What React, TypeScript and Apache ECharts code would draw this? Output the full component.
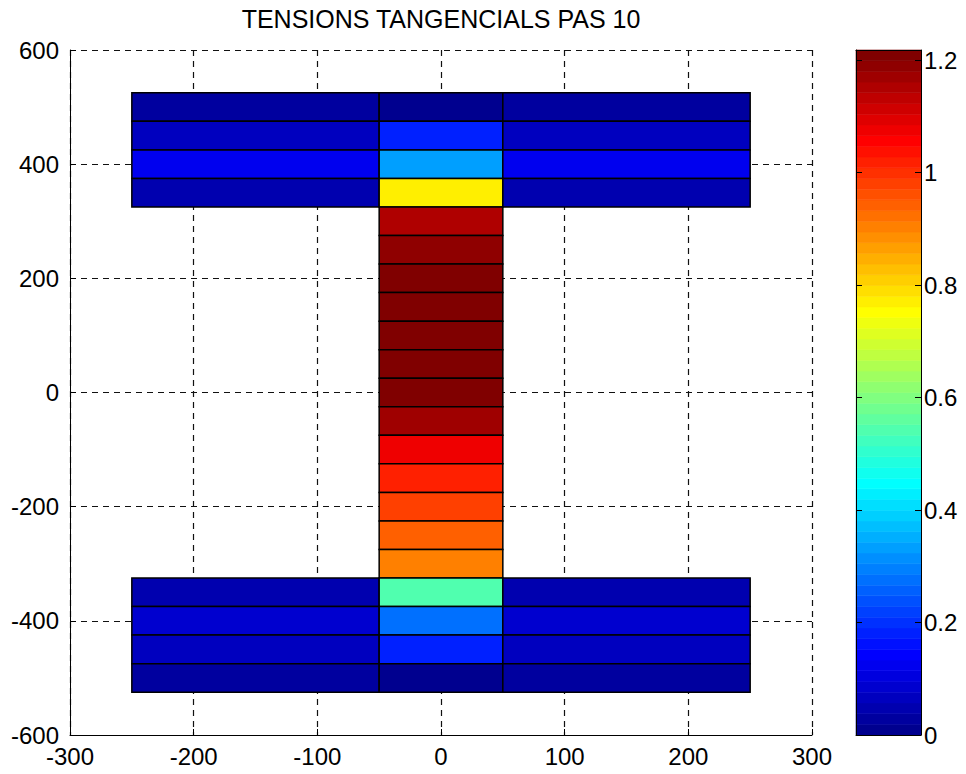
import React, { useEffect, useRef } from "react";
import * as echarts from "echarts";

// ---- data ----
const titleText = "TENSIONS TANGENCIALS PAS 10";
const xTicks = { min: -300, max: 300, interval: 100 };
const yTicks = { min: -600, max: 600, interval: 200 };
const colorMax = 1.218;
const colorTickStep = 0.2;

// flange columns (x ranges): left outstand, centre (over web), right outstand
const flangeColumns: [number, number][] = [[-250, -50], [-50, 50], [50, 250]];
// top flange row edges (top to bottom) and values
const topFlangeEdges = [525, 475, 425, 375, 325];
const topFlangeSide = [0.03, 0.07, 0.12, 0.045];
const topFlangeCentre = [0.01, 0.18, 0.33, 0.77];
// web
const webX: [number, number] = [-50, 50];
const webEdges = [325, 275, 225, 175, 125, 75, 25, -25, -75, -125, -175, -225, -275, -325];
const webValues = [1.15, 1.19, 1.21, 1.21, 1.21, 1.21, 1.21, 1.17, 1.075, 1.02, 0.98, 0.94, 0.9];
// bottom flange
const bottomFlangeEdges = [-325, -375, -425, -475, -525];
const bottomFlangeSide = [0.045, 0.085, 0.065, 0.03];
const bottomFlangeCentre = [0.54, 0.28, 0.18, 0.01];

// ---- colormap (MATLAB jet, 64 levels) ----
const LEVELS = 64;
function jet(k: number): string {
  let r = 0, g = 0, b = 0;
  if (k <= 7) { b = (k + 9) / 16; }
  else if (k <= 23) { b = 1; g = (k - 7) / 16; }
  else if (k <= 39) { g = 1; r = (k - 23) / 16; b = 1 - (k - 23) / 16; }
  else if (k <= 55) { r = 1; g = 1 - (k - 39) / 16; }
  else { r = 1 - (k - 55) / 16; }
  const h = (v: number) => Math.round(Math.max(0, Math.min(1, v)) * 255).toString(16).padStart(2, "0");
  return "#" + h(r) + h(g) + h(b);
}

function buildFlange(edges: number[], side: number[], centre: number[]) {
  const out: number[][] = [];
  for (let i = 0; i < side.length; i++) {
    const top = edges[i], bot = edges[i + 1];
    out.push([flangeColumns[0][0], flangeColumns[0][1], bot, top, side[i]]);
    out.push([flangeColumns[1][0], flangeColumns[1][1], bot, top, centre[i]]);
    out.push([flangeColumns[2][0], flangeColumns[2][1], bot, top, side[i]]);
  }
  return out;
}

const FONT = "'Liberation Sans', Arial, Helvetica, sans-serif";

export default function App() {
  const ref = useRef<HTMLDivElement>(null);
  useEffect(() => {
    if (!ref.current) return;
    const chart = echarts.init(ref.current, undefined, { renderer: "svg" });

    const cells: number[][] = [
      ...buildFlange(topFlangeEdges, topFlangeSide, topFlangeCentre),
      ...webValues.map((v, i) => [webX[0], webX[1], webEdges[i + 1], webEdges[i], v]),
      ...buildFlange(bottomFlangeEdges, bottomFlangeSide, bottomFlangeCentre),
    ];
    const barCells: number[][] = Array.from({ length: LEVELS }, (_, k) => [
      0, 1, (k * colorMax) / LEVELS, ((k + 1) * colorMax) / LEVELS, ((k + 0.5) * colorMax) / LEVELS,
    ]);
    const pieces = Array.from({ length: LEVELS }, (_, k) => ({
      gte: (k * colorMax) / LEVELS,
      lt: k === LEVELS - 1 ? colorMax + 1 : ((k + 1) * colorMax) / LEVELS,
      color: jet(k),
    }));

    const rectItem = (withEdge: boolean) => (params: any, api: any) => {
      const p0 = api.coord([api.value(0), api.value(3)]);
      const p1 = api.coord([api.value(1), api.value(2)]);
      const color = api.visual("color");
      return {
        type: "rect",
        shape: { x: p0[0], y: p0[1], width: p1[0] - p0[0], height: p1[1] - p0[1] },
        style: withEdge
          ? { fill: color, stroke: "#000", lineWidth: 1.5 }
          : { fill: color, stroke: color, lineWidth: 0.6 },
      };
    };

    const dashed = { show: true, lineStyle: { color: "#111", width: 1.2, type: [6, 5] as any } };
    const axisText = { color: "#000", fontSize: 24, fontFamily: FONT };
    const colorLabel = (v: number) => {
      const q = v / colorTickStep;
      return Math.abs(q - Math.round(q)) < 1e-6 ? String(+v.toFixed(1)) : "";
    };

    chart.setOption({
      animation: false,
      backgroundColor: "#fff",
      graphic: [
        {
          type: "text",
          x: 441,
          y: 6,
          style: {
            text: titleText,
            textAlign: "center",
            textVerticalAlign: "top",
            fontSize: 25,
            fontFamily: FONT,
            fill: "#000",
          },
        },
      ],
      grid: [
        { left: 70, top: 50, width: 742, height: 685 },
        { left: 856, top: 50, width: 65, height: 685 },
      ],
      xAxis: [
        {
          type: "value", gridIndex: 0, min: xTicks.min, max: xTicks.max, interval: xTicks.interval,
          axisLine: { show: true, onZero: false, lineStyle: { color: "#000", width: 1 } },
          axisTick: { show: true, inside: true, length: 6, lineStyle: { color: "#000" } },
          axisLabel: { ...axisText, margin: 9 },
          splitLine: dashed,
        },
        {
          type: "value", gridIndex: 1, min: 0, max: 1, position: "bottom", z: 10,
          axisLine: { show: true, onZero: false, lineStyle: { color: "#000", width: 1 } },
          axisTick: { show: false }, axisLabel: { show: false }, splitLine: { show: false },
        },
        {
          type: "value", gridIndex: 1, min: 0, max: 1, position: "top", z: 10,
          axisLine: { show: true, onZero: false, lineStyle: { color: "#000", width: 1 } },
          axisTick: { show: false }, axisLabel: { show: false }, splitLine: { show: false },
        },
      ],
      yAxis: [
        {
          type: "value", gridIndex: 0, min: yTicks.min, max: yTicks.max, interval: yTicks.interval,
          axisLine: { show: true, onZero: false, lineStyle: { color: "#000", width: 1 } },
          axisTick: { show: true, inside: true, length: 6, lineStyle: { color: "#000" } },
          axisLabel: { ...axisText, margin: 11 },
          splitLine: dashed,
        },
        {
          type: "value", gridIndex: 1, min: 0, max: colorMax, interval: colorTickStep, position: "right", z: 10,
          axisLine: { show: true, onZero: false, lineStyle: { color: "#000", width: 1 } },
          axisTick: { show: true, inside: true, length: 6, lineStyle: { color: "#000" } },
          axisLabel: { ...axisText, margin: 3, formatter: colorLabel, showMaxLabel: true },
          splitLine: { show: false },
        },
        {
          type: "value", gridIndex: 1, min: 0, max: colorMax, interval: colorTickStep, position: "left", z: 10,
          axisLine: { show: true, onZero: false, lineStyle: { color: "#000", width: 1 } },
          axisTick: { show: true, inside: true, length: 6, lineStyle: { color: "#000" } },
          axisLabel: { show: false },
          splitLine: { show: false },
        },
      ],
      visualMap: {
        type: "piecewise",
        show: false,
        dimension: 4,
        seriesIndex: [0, 1],
        pieces,
      },
      series: [
        {
          type: "custom",
          name: "cells",
          xAxisIndex: 0,
          yAxisIndex: 0,
          renderItem: rectItem(true),
          dimensions: ["x0", "x1", "y0", "y1", "value"],
          encode: { x: [0, 1], y: [2, 3] },
          data: cells,
          z: 2,
        },
        {
          type: "custom",
          name: "colorbar",
          xAxisIndex: 1,
          yAxisIndex: 1,
          renderItem: rectItem(false),
          dimensions: ["x0", "x1", "y0", "y1", "value"],
          encode: { x: [0, 1], y: [2, 3] },
          data: barCells,
          z: 2,
        },
      ],
    });
    return () => chart.dispose();
  }, []);

  return (
    <div
      ref={ref}
      style={{ position: "fixed", left: 0, top: 0, width: 966, height: 774, background: "#fff" }}
    />
  );
}
